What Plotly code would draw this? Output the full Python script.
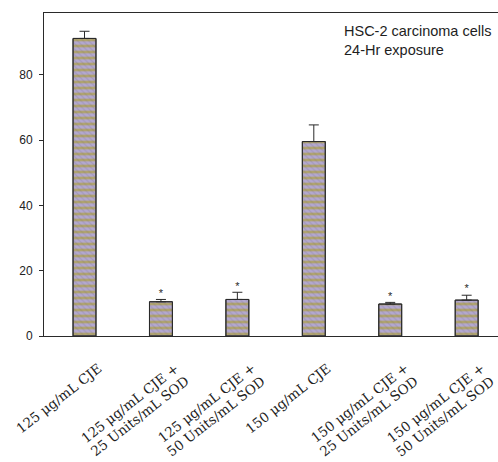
import math
import plotly.graph_objects as go

# Cell viability data, HSC-2 carcinoma cells, 24-hr exposure
categories = [
    "125 μg/mL CJE",
    "125 μg/mL CJE +<br>25 Units/mL SOD",
    "125 μg/mL CJE +<br>50 Units/mL SOD",
    "150 μg/mL CJE",
    "150 μg/mL CJE +<br>25 Units/mL SOD",
    "150 μg/mL CJE +<br>50 Units/mL SOD",
]
values = [91.2, 10.5, 11.2, 59.6, 9.8, 11.0]
errors = [2.2, 0.7, 2.2, 5.1, 0.5, 1.5]
significant = [False, True, True, False, True, True]
y_ticks = [0, 20, 40, 60, 80]

xs = list(range(len(categories)))
ink = "#2a2a2a"

fig = go.Figure()

# Striped fill (tan / lavender bands)
fig.add_trace(go.Bar(
    x=xs, y=values, width=0.3,
    marker=dict(
        color="#b4a9cc",
        line=dict(color=ink, width=1),
        pattern=dict(shape="-", fgcolor="#b0a470", bgcolor="#b3a8d0",
                     size=6, solidity=0.45, fillmode="replace"),
    ),
    error_y=dict(type="data", symmetric=False, array=errors,
                 arrayminus=[0] * len(errors), color=ink, thickness=1, width=5),
    showlegend=False, hoverinfo="skip",
))

# Fine diagonal hatch over the stripes
fig.add_trace(go.Bar(
    x=xs, y=values, width=0.3,
    marker=dict(
        color="rgba(0,0,0,0)",
        line=dict(color=ink, width=1),
        pattern=dict(shape="\\", fgcolor="rgba(110,100,110,0.4)",
                     bgcolor="rgba(0,0,0,0)", size=4, solidity=0.3,
                     fillmode="overlay"),
    ),
    showlegend=False, hoverinfo="skip",
))

# Significance markers above the error caps
star_x = [x for x, s in zip(xs, significant) if s]
star_y = [v + e for v, e, s in zip(values, errors, significant) if s]
fig.add_trace(go.Scatter(
    x=star_x, y=star_y, mode="text", text=["*"] * len(star_x),
    textposition="top center",
    textfont=dict(family="Liberation Sans, Arial", size=11, color=ink),
    showlegend=False, hoverinfo="skip",
))

# Slanted category labels under each bar, one annotation per text line,
# right-aligned along the slant
angle = -38
label_size = 13.5
line_h = label_size * 1.25
sin_a = math.sin(math.radians(-angle))
cos_a = math.cos(math.radians(-angle))
annotations = []
for x, label in zip(xs, categories):
    for k, line in enumerate(label.split("<br>")):
        annotations.append(dict(
            xref="x", yref="paper", x=x, y=0,
            xanchor="right", yanchor="top",
            xshift=13 + (k + 1) * line_h * sin_a,
            yshift=-21 - k * line_h * cos_a,
            textangle=angle, showarrow=False, text=line,
            font=dict(family="DejaVu Serif", size=label_size, color="#1e1e1e"),
        ))

annotations.append(dict(
    xref="paper", yref="paper", x=0.656, y=0.975,
    xanchor="left", yanchor="top", align="left", showarrow=False,
    text="HSC-2 carcinoma cells<br>24-Hr exposure",
    font=dict(family="Liberation Sans, Arial", size=14.5, color="#1e1e1e"),
))

fig.update_layout(
    width=498, height=462,
    margin=dict(l=44, r=0, t=13, b=126),
    paper_bgcolor="white", plot_bgcolor="white",
    barmode="overlay",
    xaxis=dict(
        range=[-0.53, 5.41],
        tickmode="array", tickvals=xs, showticklabels=False, ticks="",
        showline=True, linecolor=ink, linewidth=1, mirror=True,
        showgrid=False, zeroline=False,
    ),
    yaxis=dict(
        range=[0, 99],
        tickmode="array", tickvals=y_ticks,
        ticks="outside", ticklen=4, tickcolor=ink,
        showline=True, linecolor=ink, linewidth=1,
        showgrid=False, zeroline=False,
        tickfont=dict(family="Liberation Sans, Arial", size=12, color="#222"),
        ticklabelstandoff=4,
    ),
    annotations=annotations,
)

fig.write_html("out.html")
